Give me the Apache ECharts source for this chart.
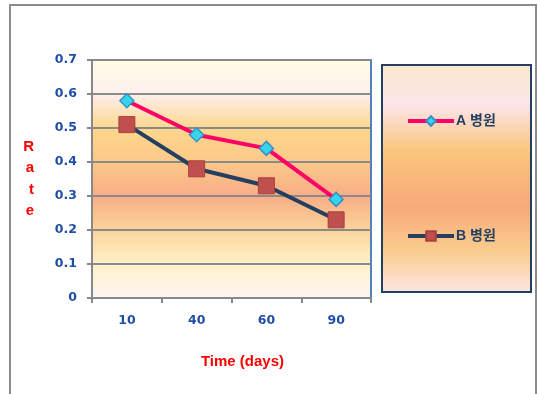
<!DOCTYPE html>
<html>
<head>
<meta charset="utf-8">
<script src="https://cdn.jsdelivr.net/npm/echarts@6/dist/echarts.min.js"></script>
<style>
html, body { margin: 0; padding: 0; background: #fff; }
#main { width: 538px; height: 394px; }
</style>
</head>
<body>
<div id="main"></div>
<script>
var categories = ['10', '40', '60', '90'];
var seriesA = [0.58, 0.48, 0.44, 0.29];
var seriesB = [0.51, 0.38, 0.33, 0.23];
var seriesNames = ['A 병원', 'B 병원'];

var main = echarts.init(document.getElementById('main'));

// plot 배경 그라데이션
function plotFill() {
	return new echarts.graphic.LinearGradient(0, 0, 0, 1, [
		{ offset: 0, color: '#fffde2' },
		{ offset: 0.14, color: '#fdf0f0' },
		{ offset: 0.29, color: '#fcd78c' },
		{ offset: 0.43, color: '#fbc88a' },
		{ offset: 0.57, color: '#f8ad86' },
		{ offset: 0.71, color: '#fbd39a' },
		{ offset: 0.86, color: '#fef2cc' },
		{ offset: 1, color: '#fef4f4' }
	]);
}
// legend 박스 그라데이션
function legendFill() {
	return new echarts.graphic.LinearGradient(0, 0, 0, 1, [
		{ offset: 0, color: '#fbe8cf' },
		{ offset: 0.18, color: '#fce5ea' },
		{ offset: 0.38, color: '#f9c67c' },
		{ offset: 0.62, color: '#f8a97b' },
		{ offset: 0.82, color: '#f9cd8e' },
		{ offset: 1, color: '#fce6e6' }
	]);
}

var font = 'Arial, "Liberation Sans", "Noto Sans CJK KR", sans-serif';
var numFont = '"DejaVu Sans", Verdana, sans-serif';

var option = {
	animation: false,
	textStyle: { fontFamily: font },
	grid: {
		left: 92,
		top: 60,
		width: 279,
		height: 238,
		show: true,
		backgroundColor: plotFill(),
		borderColor: '#4f81bd',
		borderWidth: 2
	},
	legend: {
		orient: 'vertical',
		left: 406,
		top: 114,
		padding: 0,
		itemGap: 101,
		itemWidth: 46,
		itemHeight: 12,
		data: seriesNames,
		lineStyle: { width: 4 },
		textStyle: { color: '#243f60', fontWeight: 'bold', fontSize: 14, fontFamily: font, padding: [0, 0, 0, -3] }
	},
	graphic: [
		{
			type: 'rect',
			shape: { x: 10, y: 5, width: 526, height: 400 },
			style: { fill: 'none', stroke: '#8c8c8c', lineWidth: 2 },
			z: -10
		},
		{
			type: 'rect',
			shape: { x: 382, y: 65, width: 149, height: 227 },
			style: { fill: legendFill(), stroke: '#243f60', lineWidth: 2 },
			z: -5
		}
	],
	xAxis: {
		type: 'category',
		data: categories,
		boundaryGap: true,
		name: 'Time (days)',
		nameLocation: 'middle',
		nameGap: 56,
		nameTextStyle: { color: '#ff0000', fontWeight: 'bold', fontSize: 15, padding: [0, 0, 0, 22] },
		axisLine: { lineStyle: { color: '#888888', width: 2 } },
		axisTick: { show: true, length: 5, lineStyle: { color: '#888888', width: 2 } },
		axisLabel: { color: '#1f4ea8', fontWeight: 'bold', fontSize: 12.5, fontFamily: numFont, margin: 16 },
		splitLine: { show: false }
	},
	yAxis: {
		type: 'value',
		min: 0,
		max: 0.7,
		interval: 0.1,
		name: 'R\na\nt\ne',
		nameLocation: 'middle',
		nameRotate: 0,
		nameGap: 58,
		nameTextStyle: { color: '#ff0000', fontWeight: 'bold', fontSize: 15, lineHeight: 21.5, padding: [0, 0, 6, 0] },
		axisLine: { show: true, lineStyle: { color: '#888888', width: 2 } },
		axisTick: { show: true, length: 5, lineStyle: { color: '#888888', width: 2 } },
		axisLabel: {
			color: '#1f4ea8', fontWeight: 'bold', fontSize: 12.5, fontFamily: numFont, margin: 15,
			formatter: function (v) { return v === 0 ? '0' : v.toFixed(1); }
		},
		splitLine: { show: true, lineStyle: { color: '#8a8a8a', width: 2 } }
	},
	series: [
		{
			name: seriesNames[0],
			type: 'line',
			data: seriesA,
			symbol: 'diamond',
			symbolSize: 14,
			lineStyle: { color: '#ff0066', width: 4 },
			itemStyle: { color: '#33d6ec', borderColor: '#3a8fc8', borderWidth: 1.5 },
			z: 3
		},
		{
			name: seriesNames[1],
			type: 'line',
			data: seriesB,
			symbol: 'rect',
			symbolSize: 16,
			lineStyle: { color: '#243f60', width: 4 },
			itemStyle: { color: '#c0504d', borderColor: '#a8403d', borderWidth: 1 },
			z: 2
		}
	]
};
main.setOption(option);
</script>
</body>
</html>
